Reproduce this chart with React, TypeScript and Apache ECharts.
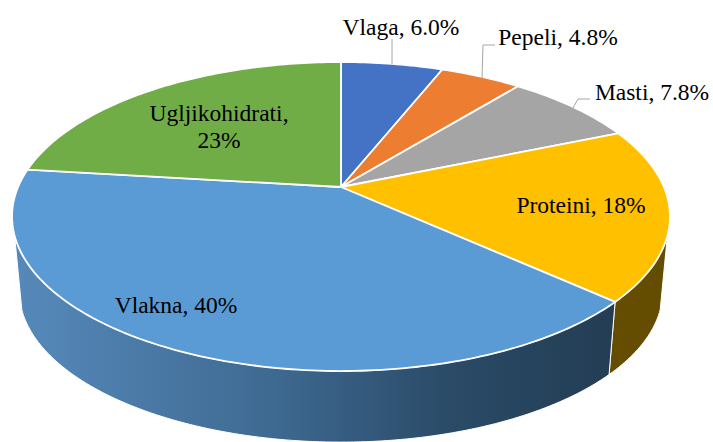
import React, { useEffect, useRef } from "react";
import * as echarts from "echarts";

const categories = ["Vlaga", "Pepeli", "Masti", "Proteini", "Vlakna", "Ugljikohidrati"];
const values = [6.0, 4.8, 7.8, 18.0, 40.0, 23.0];
const decimals = [1, 1, 1, 0, 0, 0];
const colors = ["#4472C4", "#ED7D31", "#A5A5A5", "#FFC000", "#5B9BD5", "#70AD47"];

// Layout of the tilted disc (perspective projection of a circle)
const CX = 341;
const APEX_Y = 187;
const A = 322.9;
const B = -113.16;
const C = 0.191;
const RIM_CY = 216.5;
const LOWER_CY = 291;
const LOWER_SCALE = 0.978;
const WALL_FROM = 108;
const WALL_TO = 252;

const labelLayout = [
  { x: 401, y: 27, sep: ", " },
  { x: 558, y: 37, sep: ", " },
  { x: 652, y: 92, sep: ", " },
  { x: 581, y: 205, sep: ", " },
  { x: 176, y: 305, sep: ", " },
  { x: 219, y: 126, sep: ",\n" },
];
const leaders: (number[][] | null)[] = [
  [[392, 39], [392, 64]],
  [[495, 45], [483, 45], [482, 78]],
  [[590, 99], [578, 99], [573, 108]],
  null,
  null,
  null,
];

const total = values.reduce((a, b) => a + b, 0);
const starts: number[] = [];
values.reduce((acc, v, i) => {
  starts[i] = acc;
  return acc + v;
}, 0);

function rim(deg: number): number[] {
  const t = (deg * Math.PI) / 180;
  const u = Math.sin(t);
  const v = Math.cos(t);
  const d = 1 + C * v;
  return [CX + (A * u) / d, (APEX_Y + B * v) / d];
}
function lower(deg: number): number[] {
  const p = rim(deg);
  return [CX + (p[0] - CX) * LOWER_SCALE, LOWER_CY + (p[1] - RIM_CY) * LOWER_SCALE];
}
function arc(a: number, b: number, f: (d: number) => number[]): number[][] {
  const pts: number[][] = [];
  const n = Math.max(2, Math.ceil(b - a));
  for (let i = 0; i <= n; i++) pts.push(f(a + ((b - a) * i) / n));
  return pts;
}

const wallFill: Record<number, any> = {
  3: "#644C00",
  4: new echarts.graphic.LinearGradient(0, 0, 1, 0, [
    { offset: 0, color: "#5689BB" },
    { offset: 0.4, color: "#406C94" },
    { offset: 0.55, color: "#365D81" },
    { offset: 0.73, color: "#2A4A66" },
    { offset: 1, color: "#233D54" },
  ]),
};

export default function App() {
  const ref = useRef<HTMLDivElement>(null);
  useEffect(() => {
    document.body.style.margin = "0";
    const chart = echarts.init(ref.current!, null, { renderer: "svg" });
    const rows = values.map((v, i) => [v, starts[i]]);
    chart.setOption({
      animation: false,
      series: [
        {
          type: "custom",
          coordinateSystem: "none",
          z: 1,
          silent: true,
          data: rows,
          renderItem: (params: any, api: any) => {
            const i = params.dataIndex;
            const a = Math.max((api.value(1) / total) * 360, WALL_FROM);
            const b = Math.min(((api.value(1) + api.value(0)) / total) * 360, WALL_TO);
            if (b <= a) return { type: "group", children: [] };
            const pts = arc(a, b, rim).concat(arc(a, b, lower).reverse());
            return {
              type: "polygon",
              shape: { points: pts },
              style: { fill: wallFill[i] || colors[i], stroke: "#fff", lineWidth: 1 },
            };
          },
        },
        {
          type: "custom",
          coordinateSystem: "none",
          z: 2,
          silent: true,
          data: rows,
          renderItem: (params: any, api: any) => {
            const i = params.dataIndex;
            const a = (api.value(1) / total) * 360;
            const b = ((api.value(1) + api.value(0)) / total) * 360;
            const pts = [[CX, APEX_Y]].concat(arc(a, b, rim));
            const children: any[] = [
              {
                type: "polygon",
                shape: { points: pts },
                style: { fill: colors[i], stroke: "#fff", lineWidth: 1.8, lineJoin: "round" },
              },
            ];
            const lead = leaders[i];
            if (lead) {
              children.push({
                type: "polyline",
                shape: { points: lead },
                style: { fill: "none", stroke: "#A6A6A6", lineWidth: 1 },
              });
            }
            const l = labelLayout[i];
            children.push({
              type: "text",
              x: l.x,
              y: l.y,
              style: {
                text: `${categories[i]}${l.sep}${api.value(0).toFixed(decimals[i])}%`,
                fill: "#000",
                font: '23.5px "Liberation Serif"',
                textAlign: "center",
                textVerticalAlign: "middle",
                align: "center",
                verticalAlign: "middle",
                lineHeight: 27,
              },
            });
            return { type: "group", children };
          },
        },
      ],
    });
    return () => chart.dispose();
  }, []);
  return <div ref={ref} style={{ width: 713, height: 442 }} />;
}
